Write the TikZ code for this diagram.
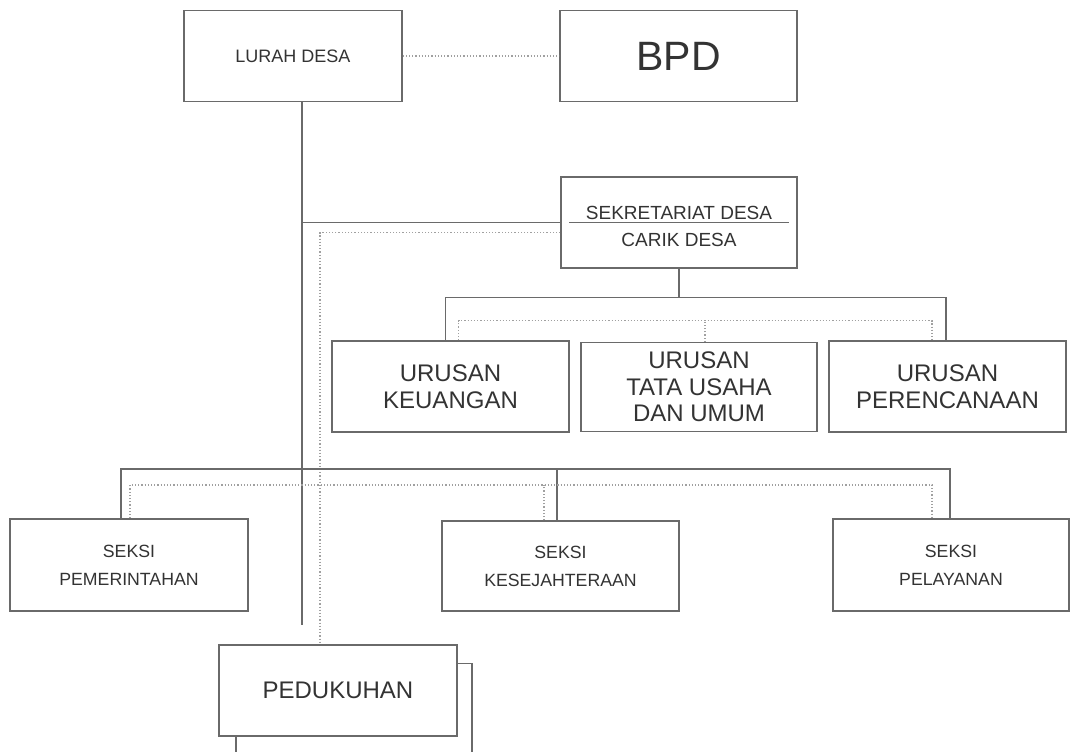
\documentclass[tikz,border=0pt]{standalone}
\usepackage{fontspec}
\setmainfont{Liberation Sans}
\definecolor{linegray}{HTML}{6A6A6A}
\definecolor{dotgray}{HTML}{A0A0A0}
\definecolor{txtgray}{HTML}{333333}

\begin{document}
\begin{tikzpicture}[x=1pt,y=-1pt,
    unit/.style={draw=linegray, line width=1.2pt, fill=white, text=txtgray,
      inner sep=0pt, align=center, minimum width=237pt, minimum height=91pt},
    conn/.style={draw=linegray, line width=1.2pt},
    dotline/.style={draw=dotgray, line width=1.2pt, dotted},
    fsmall/.style={font=\fontsize{17.7}{28}\selectfont},
    fmid/.style={font=\fontsize{24}{26.5}\selectfont}]
  \useasboundingbox[fill=white] (0,0) rectangle (1072,752);

  % top row
  \node[unit, minimum width=218pt, font=\fontsize{18}{20}\selectfont] (lurah) at (293,56) {LURAH DESA};
  \node[unit, font=\fontsize{41}{44}\selectfont] (bpd) at (678.5,56) {BPD};
  \draw[dotline] (lurah.east) -- (bpd.west);

  % sekretariat
  \node[unit, minimum width=236pt] (sekre) at (679,222.5) {};
  \node[fsmall, font=\fontsize{19}{21}\selectfont, text=txtgray, anchor=base] (sekretop) at (679,219) {SEKRETARIAT DESA};
  \node[fsmall, font=\fontsize{19}{21}\selectfont, text=txtgray, anchor=base] (carik) at (679,246) {CARIK DESA};
  \draw[conn] ([xshift=9pt]sekre.west) -- ([xshift=-9pt]sekre.east);

  % urusan
  \node[unit, fmid] (keu) at (450.5,386.5) {URUSAN\\KEUANGAN};
  \node[unit, fmid, minimum width=236pt, minimum height=89pt] (tata) at (699,387) {URUSAN\\TATA USAHA\\DAN UMUM};
  \node[unit, fmid] (renc) at (947.5,386.5) {URUSAN\\PERENCANAAN};

  % seksi
  \node[unit, fsmall, minimum width=238pt, minimum height=92pt] (pem) at (129,565) {SEKSI\\PEMERINTAHAN};
  \node[unit, fsmall, minimum height=90pt] (kes) at (560.5,566) {SEKSI\\KESEJAHTERAAN};
  \node[unit, fsmall, minimum width=236pt, minimum height=92pt] (pel) at (951,565) {SEKSI\\PELAYANAN};

  % pedukuhan (stacked)
  \node[unit, minimum width=236pt] (dukback) at (354,709) {};
  \node[unit, fmid, minimum width=238pt] (duk) at (338,690.5) {PEDUKUHAN};

  % lines from lurah
  \coordinate (trunk) at (302,625);
  \coordinate (dukdot) at (320,0);
  \draw[conn] (lurah.south -| trunk) -- (trunk);
  \draw[conn] (trunk |- sekre.west) -- (sekre.west);
  \draw[dotline] ([yshift=-10pt]sekre.west) -| (duk.north -| dukdot);

  % lines to urusan
  \draw[conn] (sekre.south) -- ++(0,29) coordinate (ujoint);
  \draw[conn] ([xshift=-5pt]keu.north) |- (ujoint) -| ([xshift=-1.5pt]renc.north);
  \coordinate (udot) at ([yshift=-23pt]ujoint);
  \draw[dotline] ([xshift=8pt]keu.north) |- (udot) -| ([xshift=-15.5pt]renc.north);
  \path ([xshift=6pt]tata.north) coordinate (tdot);
  \draw[dotline] (tdot) -- (tdot |- udot);

  % lines to seksi
  \coordinate (sjoint) at (302,469);
  \coordinate (sdot) at (302,485);
  \draw[conn] ([xshift=-8pt]pem.north) |- (sjoint) -| ([xshift=-1pt]pel.north);
  \draw[conn] ([xshift=-3.5pt]kes.north) -- ([xshift=-3.5pt]kes.north |- sjoint);
  \draw[dotline] ([xshift=1pt]pem.north) |- (sdot) -| ([xshift=-19pt]pel.north);
  \draw[dotline] ([xshift=-16.5pt]kes.north) -- ([xshift=-16.5pt]kes.north |- sdot);
\end{tikzpicture}
\end{document}
